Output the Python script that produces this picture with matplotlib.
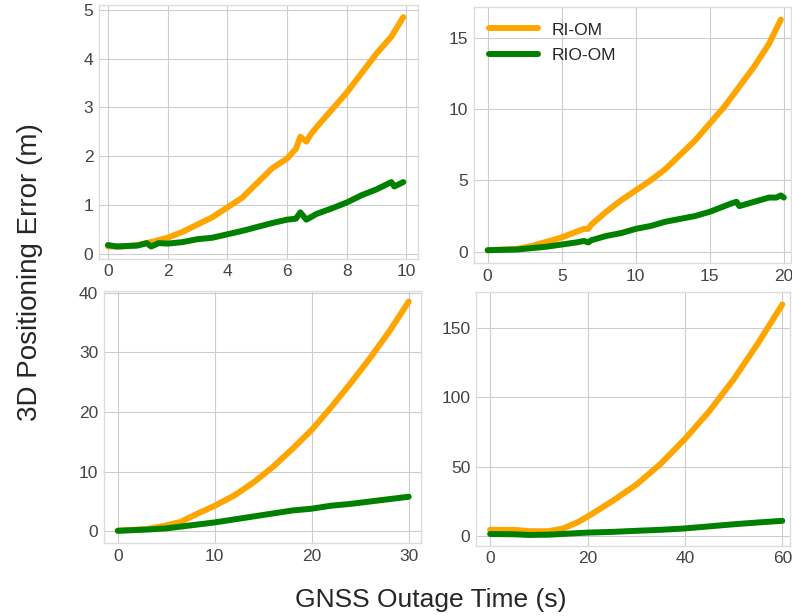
import numpy as np
from matplotlib import pyplot as plt

plt.style.use('seaborn-v0_8-whitegrid')
plt.rcParams['font.family'] = ['Liberation Sans', 'DejaVu Sans']

labels = ['RI-OM', 'RIO-OM']
colors = ['orange', 'green']

# 10 s outage
t10_ri = [0, 0.5, 1, 1.5, 2, 2.5, 3, 3.5, 4, 4.5, 5, 5.5, 6, 6.3, 6.45, 6.65, 6.8, 7, 7.5, 8, 8.5, 9, 9.5, 9.9]
e10_ri = [0.15, 0.15, 0.18, 0.25, 0.33, 0.45, 0.6, 0.75, 0.95, 1.15, 1.45, 1.75, 1.95, 2.15, 2.4, 2.3, 2.45, 2.6, 2.95, 3.3, 3.7, 4.1, 4.45, 4.85]
t10_rio = [0, 0.3, 0.6, 1, 1.3, 1.45, 1.7, 2, 2.5, 3, 3.5, 4, 4.5, 5, 5.5, 6, 6.3, 6.45, 6.65, 7, 7.5, 8, 8.5, 9, 9.5, 9.6, 9.9]
e10_rio = [0.18, 0.15, 0.16, 0.17, 0.22, 0.15, 0.22, 0.21, 0.24, 0.3, 0.33, 0.4, 0.47, 0.55, 0.63, 0.7, 0.72, 0.85, 0.7, 0.82, 0.93, 1.05, 1.2, 1.32, 1.47, 1.38, 1.47]

# 20 s outage
t20_ri = [0, 2, 3, 4, 5, 6, 6.5, 6.8, 7, 8, 9, 10, 11, 12, 13, 14, 15, 16, 17, 18, 19, 19.8]
e20_ri = [0.1, 0.2, 0.4, 0.7, 1.0, 1.4, 1.6, 1.6, 1.9, 2.8, 3.6, 4.3, 5.0, 5.8, 6.8, 7.8, 9.0, 10.2, 11.6, 13.0, 14.6, 16.3]
t20_rio = [0, 2, 3, 4, 5, 6, 6.5, 6.8, 7, 8, 9, 10, 11, 12, 13, 14, 15, 16, 16.5, 16.8, 17, 18, 19, 19.5, 19.8, 20]
e20_rio = [0.1, 0.15, 0.25, 0.35, 0.5, 0.65, 0.75, 0.65, 0.8, 1.1, 1.3, 1.6, 1.8, 2.1, 2.3, 2.5, 2.8, 3.2, 3.4, 3.5, 3.2, 3.5, 3.8, 3.8, 3.95, 3.8]

# 30 s outage
t30_ri = [0, 3, 5, 6.5, 7, 8, 10, 12, 14, 16, 18, 20, 22, 24, 26, 28, 30]
e30_ri = [0.1, 0.4, 1.0, 1.6, 2.0, 2.8, 4.3, 6.0, 8.2, 10.8, 13.8, 17.0, 20.8, 24.8, 29.0, 33.5, 38.5]
t30_rio = [0, 3, 5, 7, 10, 12, 14, 16, 18, 20, 22, 24, 26, 28, 30]
e30_rio = [0.1, 0.3, 0.5, 0.9, 1.5, 2.0, 2.5, 3.0, 3.5, 3.8, 4.3, 4.6, 5.0, 5.4, 5.8]

# 60 s outage
t60_ri = [0, 5, 8, 12, 15, 18, 20, 25, 30, 35, 40, 45, 50, 55, 60]
e60_ri = [4.5, 4.5, 3.5, 3.5, 5.5, 10, 14, 25, 37, 52, 70, 90, 113, 139, 167]
t60_rio = [0, 5, 8, 12, 20, 25, 30, 35, 40, 45, 50, 55, 60]
e60_rio = [1.5, 1.3, 0.8, 1.0, 2.5, 3, 3.8, 4.5, 5.5, 7, 8.5, 9.8, 11]

panels = [
    ([0.125, 0.580, 0.403, 0.412], (t10_ri, e10_ri), (t10_rio, e10_rio), (-0.3, 10.4), (-0.1, 5.1), [0, 2, 4, 6, 8, 10], [0, 1, 2, 3, 4, 5]),
    ([0.598, 0.573, 0.401, 0.416], (t20_ri, e20_ri), (t20_rio, e20_rio), (-0.95, 20.5), (-0.8, 17.2), [0, 5, 10, 15, 20], [0, 5, 10, 15]),
    ([0.131, 0.118, 0.401, 0.410], (t30_ri, e30_ri), (t30_rio, e30_rio), (-1.45, 31.3), (-2, 40.3), [0, 10, 20, 30], [0, 10, 20, 30, 40]),
    ([0.601, 0.114, 0.396, 0.412], (t60_ri, e60_ri), (t60_rio, e60_rio), (-2.9, 61.5), (-7, 176), [0, 20, 40, 60], [0, 50, 100, 150]),
]

fig = plt.figure(figsize=(7.92, 6.16), dpi=100)
for i, (pos, ri, rio, xl, yl, xt, yt) in enumerate(panels):
    ax = fig.add_axes(pos)
    ax.plot(ri[0], ri[1], color=colors[0], lw=4.3, label=labels[0])
    ax.plot(rio[0], rio[1], color=colors[1], lw=4.3, label=labels[1])
    ax.set_xlim(*xl)
    ax.set_ylim(*yl)
    ax.set_xticks(xt)
    ax.set_yticks(yt)
    ax.tick_params(labelsize=12.5, labelcolor='#444444', pad=4)
    for s in ax.spines.values():
        s.set_visible(True)
        s.set_color('#dddddd')
    if i == 1:
        ax.legend(loc='upper left', fontsize=12.5, handlelength=2.8, labelspacing=0.6, frameon=False)

fig.text(0.038, 0.558, '3D Positioning Error (m)', rotation=90, fontsize=20, ha='center', va='center')
fig.text(0.544, 0.026, 'GNSS Outage Time (s)', fontsize=19, ha='center', va='center')

fig.savefig('out.png', dpi=100)
